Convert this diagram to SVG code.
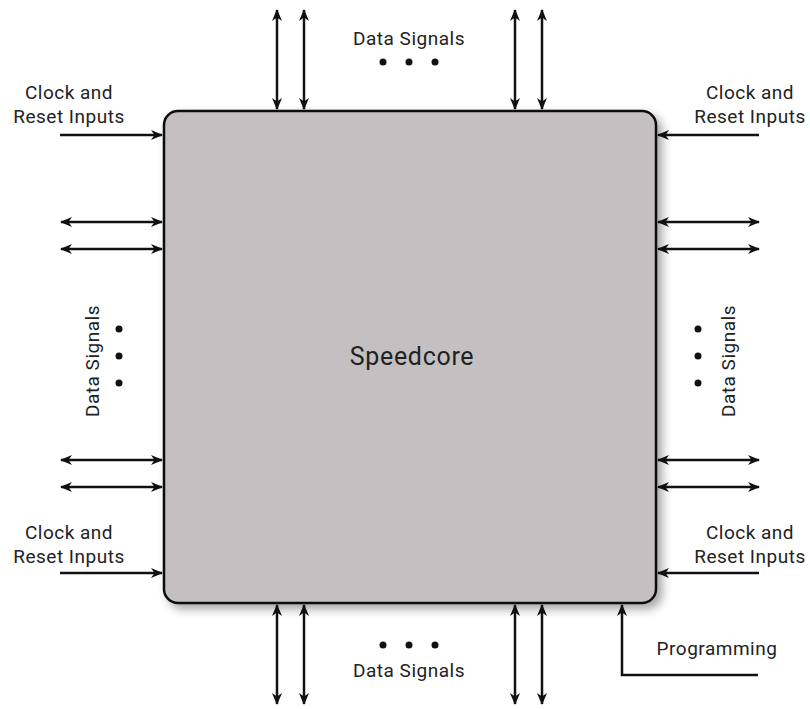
<svg xmlns="http://www.w3.org/2000/svg" width="810" height="709" viewBox="0 0 810 709">
<defs>
<marker id="ah" viewBox="0 0 12 10" refX="11" refY="5" markerWidth="12" markerHeight="10" markerUnits="userSpaceOnUse" orient="auto-start-reverse">
<path d="M0,0 L12,5 L0,10 L3.5,5 Z" fill="#111"/>
</marker>
<filter id="sh" x="-10%" y="-10%" width="130%" height="130%">
<feDropShadow dx="5" dy="5" stdDeviation="5" flood-color="#000" flood-opacity="0.35"/>
</filter>
</defs>
<style>
.c{stroke:#111;stroke-width:2.5;fill:none}
.t{font-family:Roboto,"Liberation Sans",sans-serif;font-size:19px;letter-spacing:0.5px;fill:#222}
.d{fill:#111}
</style>
<rect width="810" height="709" fill="#fff"/>
<g id="speedcore">
<rect x="164" y="111" width="492" height="492" rx="14" fill="#c4c0c1" stroke="#111" stroke-width="2.5" filter="url(#sh)"/>
<text x="412" y="365" text-anchor="middle" class="t" style="font-size:25px;letter-spacing:0.7px">Speedcore</text>
</g>
<g id="connectors">
<line class="c" x1="277" y1="10" x2="277" y2="109" marker-start="url(#ah)" marker-end="url(#ah)"/>
<line class="c" x1="304" y1="10" x2="304" y2="109" marker-start="url(#ah)" marker-end="url(#ah)"/>
<line class="c" x1="515" y1="10" x2="515" y2="109" marker-start="url(#ah)" marker-end="url(#ah)"/>
<line class="c" x1="542" y1="10" x2="542" y2="109" marker-start="url(#ah)" marker-end="url(#ah)"/>
<line class="c" x1="277" y1="605" x2="277" y2="704" marker-start="url(#ah)" marker-end="url(#ah)"/>
<line class="c" x1="304" y1="605" x2="304" y2="704" marker-start="url(#ah)" marker-end="url(#ah)"/>
<line class="c" x1="515" y1="605" x2="515" y2="704" marker-start="url(#ah)" marker-end="url(#ah)"/>
<line class="c" x1="542" y1="605" x2="542" y2="704" marker-start="url(#ah)" marker-end="url(#ah)"/>
<line class="c" x1="61" y1="222" x2="162" y2="222" marker-start="url(#ah)" marker-end="url(#ah)"/>
<line class="c" x1="61" y1="249" x2="162" y2="249" marker-start="url(#ah)" marker-end="url(#ah)"/>
<line class="c" x1="61" y1="460" x2="162" y2="460" marker-start="url(#ah)" marker-end="url(#ah)"/>
<line class="c" x1="61" y1="487" x2="162" y2="487" marker-start="url(#ah)" marker-end="url(#ah)"/>
<line class="c" x1="658" y1="222" x2="759" y2="222" marker-start="url(#ah)" marker-end="url(#ah)"/>
<line class="c" x1="658" y1="249" x2="759" y2="249" marker-start="url(#ah)" marker-end="url(#ah)"/>
<line class="c" x1="658" y1="460" x2="759" y2="460" marker-start="url(#ah)" marker-end="url(#ah)"/>
<line class="c" x1="658" y1="487" x2="759" y2="487" marker-start="url(#ah)" marker-end="url(#ah)"/>
<line class="c" x1="60" y1="135" x2="162" y2="135" marker-end="url(#ah)"/>
<line class="c" x1="60" y1="573" x2="162" y2="573" marker-end="url(#ah)"/>
<line class="c" x1="759" y1="135" x2="658" y2="135" marker-end="url(#ah)"/>
<line class="c" x1="759" y1="573" x2="658" y2="573" marker-end="url(#ah)"/>
<polyline class="c" points="758,675 622,675 622,605" marker-end="url(#ah)"/>
</g>
<g id="label-clock-tl"><text class="t" x="69" y="99" text-anchor="middle">Clock and</text><text class="t" x="69" y="123" text-anchor="middle">Reset Inputs</text></g>
<g id="label-clock-tr"><text class="t" x="750" y="99" text-anchor="middle">Clock and</text><text class="t" x="750" y="123" text-anchor="middle">Reset Inputs</text></g>
<g id="label-clock-bl"><text class="t" x="69" y="539" text-anchor="middle">Clock and</text><text class="t" x="69" y="563" text-anchor="middle">Reset Inputs</text></g>
<g id="label-clock-br"><text class="t" x="750" y="539" text-anchor="middle">Clock and</text><text class="t" x="750" y="563" text-anchor="middle">Reset Inputs</text></g>
<g id="label-prog"><text class="t" x="717" y="655" text-anchor="middle">Programming</text></g>
<g id="label-data-top"><text class="t" x="409" y="45" text-anchor="middle">Data Signals</text>
<circle class="d" cx="383" cy="62" r="3.5"/><circle class="d" cx="409" cy="62" r="3.5"/><circle class="d" cx="435" cy="62" r="3.5"/></g>
<g id="label-data-bottom"><text class="t" x="409" y="677" text-anchor="middle">Data Signals</text>
<circle class="d" cx="383" cy="645" r="3.5"/><circle class="d" cx="409" cy="645" r="3.5"/><circle class="d" cx="435" cy="645" r="3.5"/></g>
<g id="label-data-left"><text class="t" transform="translate(99,361) rotate(-90)" text-anchor="middle">Data Signals</text>
<circle class="d" cx="119" cy="329" r="3.5"/><circle class="d" cx="119" cy="356" r="3.5"/><circle class="d" cx="119" cy="383" r="3.5"/></g>
<g id="label-data-right"><text class="t" transform="translate(735,361) rotate(-90)" text-anchor="middle">Data Signals</text>
<circle class="d" cx="698" cy="329" r="3.5"/><circle class="d" cx="698" cy="356" r="3.5"/><circle class="d" cx="698" cy="383" r="3.5"/></g>
</svg>
